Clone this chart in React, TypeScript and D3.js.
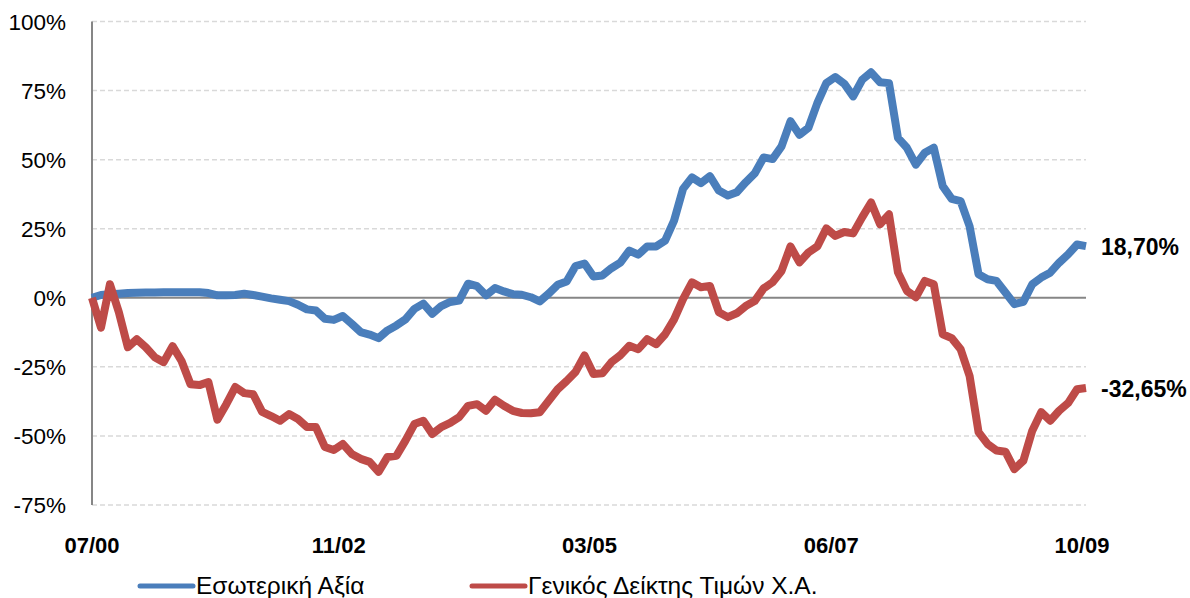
import React, { useEffect, useRef } from 'react';
import * as d3 from 'd3';

// monthly observations, 07/2000 .. 10/2009
const months = d3.timeMonth.range(new Date(2000, 6, 1), new Date(2009, 10, 1));

const intrinsicValue = [
  0.0, 1.0, 1.3, 1.5, 1.7, 1.8, 1.9, 1.9, 2.0, 2.0,
  2.0, 2.0, 2.0, 1.7, 0.9, 0.9, 1.0, 1.5, 1.0, 0.4,
  -0.2, -0.7, -1.2, -2.5, -4.2, -4.6, -7.6, -8.0, -6.6, -9.4,
  -12.4, -13.3, -14.6, -11.8, -10.0, -7.8, -4.0, -2.1, -5.8, -3.0,
  -1.5, -1.0, 5.1, 4.2, 0.9, 3.5, 2.3, 1.3, 1.1, 0.2,
  -1.3, 1.5, 4.7, 5.9, 11.5, 12.4, 7.7, 8.1, 10.7, 12.7,
  17.1, 15.6, 18.6, 18.6, 20.7, 27.9, 39.4, 43.6, 41.5, 44.0,
  38.8, 37.0, 38.2, 41.8, 45.0, 50.8, 50.2, 54.8, 63.9, 59.0,
  61.5, 70.5, 77.7, 79.9, 77.5, 72.9, 78.9, 81.6, 78.0, 77.7,
  57.9, 54.3, 48.2, 52.5, 54.3, 40.4, 35.8, 35.0, 25.9, 8.5,
  6.7, 6.1, 1.9, -2.3, -1.5, 4.9, 7.3, 9.1, 12.7, 15.7,
  19.3, 18.7,
];

const generalIndex = [
  0, -10.8, 4.9, -5.2, -17.9, -15, -17.9, -21.5, -23.3, -17.5,
  -22.9, -31.3, -31.6, -30.5, -44.1, -38.5, -32.3, -34.5, -34.9, -41.3,
  -42.8, -44.5, -42.1, -43.9, -46.8, -46.8, -54, -55.1, -52.9, -56.5,
  -58.3, -59.4, -63, -57.6, -57.2, -51.7, -45.7, -44.5, -49.3, -46.8,
  -45.3, -43.2, -39.1, -38.5, -40.9, -36.9, -39.1, -40.9, -41.7, -41.8,
  -41.4, -37.3, -33.1, -30.1, -26.8, -20.9, -27.6, -27.3, -23.3, -20.8,
  -17.4, -18.6, -15, -16.8, -13.2, -7.8, -0.5, 5.6, 3.8, 4.3,
  -5.2, -7, -5.6, -3, -1.2, 3.4, 5.6, 9.7, 18.6, 12.8,
  16.4, 18.6, 25.1, 22.4, 23.8, 23.3, 29.1, 34.5, 26.6, 30.2,
  9.2, 2.5, 0.2, 6.1, 4.9, -13.2, -14.6, -18.6, -28.3, -48.6,
  -52.9, -55.3, -55.7, -62, -59, -48.1, -41.4, -44.5, -40.9, -38.1,
  -33.1, -32.65,
];

const seriesNames = ['Εσωτερική Αξία', 'Γενικός Δείκτης Τιμών Χ.Α.'];
const endLabels = ['18,70%', '-32,65%'];
const yTicks = [100, 75, 50, 25, 0, -25, -50, -75];
const xTickIndex = [0, 28, 56, 83, 111];
const xTickLabels = ['07/00', '11/02', '03/05', '06/07', '10/09'];

const colors = ['#4a7ebb', '#be4b48'];
const font = '"Liberation Sans", Arial, sans-serif';

const W = 1190;
const H = 598;

export default function App() {
  const ref = useRef<SVGSVGElement>(null);

  useEffect(() => {
    const svg = d3.select(ref.current);
    svg.selectAll('*').remove();

    const x = d3.scaleLinear().domain([0, months.length - 1]).range([92, 1086]);
    const y = d3.scaleLinear().domain([-75, 100]).range([505, 21.5]);

    // grid
    svg.append('g')
      .selectAll('line')
      .data(yTicks.filter(d => d !== 0))
      .enter()
      .append('line')
      .attr('x1', x(0))
      .attr('x2', x(months.length - 1))
      .attr('y1', d => y(d))
      .attr('y2', d => y(d))
      .attr('stroke', '#d9d9d9')
      .attr('stroke-width', 1.5)
      .attr('stroke-dasharray', '5,3');

    // zero line + y axis
    svg.append('line')
      .attr('x1', x(0)).attr('x2', x(months.length - 1))
      .attr('y1', y(0)).attr('y2', y(0))
      .attr('stroke', '#868686').attr('stroke-width', 2);
    svg.append('line')
      .attr('x1', x(0)).attr('x2', x(0))
      .attr('y1', y(100)).attr('y2', y(-75))
      .attr('stroke', '#868686').attr('stroke-width', 2);

    // y labels
    svg.append('g')
      .selectAll('text')
      .data(yTicks)
      .enter()
      .append('text')
      .attr('x', 66)
      .attr('y', d => y(d) + 8)
      .attr('text-anchor', 'end')
      .style('font-family', font)
      .style('font-size', '22.5px')
      .style('fill', '#000')
      .text(d => `${d}%`);

    // x labels
    svg.append('g')
      .selectAll('text')
      .data(xTickIndex)
      .enter()
      .append('text')
      .attr('x', (d, i) => x(d) - (i === 0 ? 0 : 4))
      .attr('y', 553)
      .attr('text-anchor', 'middle')
      .style('font-family', font)
      .style('font-size', '22px')
      .style('font-weight', 'bold')
      .style('fill', '#000')
      .text((d, i) => xTickLabels[i]);

    // lines
    const series = [intrinsicValue, generalIndex];
    const line = d3.line<number>()
      .x((d, i) => x(i))
      .y(d => y(d));

    series.forEach((values, s) => {
      svg.append('path')
        .datum(values)
        .attr('d', line)
        .attr('fill', 'none')
        .attr('stroke', colors[s])
        .attr('stroke-width', 8)
        .attr('stroke-linejoin', 'round');

      const last = values[values.length - 1];
      svg.append('text')
        .attr('x', 1101)
        .attr('y', y(last) + 9)
        .style('font-family', font)
        .style('font-size', '23px')
        .style('font-weight', 'bold')
        .style('fill', '#000')
        .text(endLabels[s]);
    });

    // legend
    const legendX = [140, 472];
    seriesNames.forEach((name, s) => {
      svg.append('line')
        .attr('x1', legendX[s]).attr('x2', legendX[s] + 53)
        .attr('y1', 586).attr('y2', 586)
        .attr('stroke', colors[s])
        .attr('stroke-width', 5)
        .attr('stroke-linecap', 'round');
      svg.append('text')
        .attr('x', legendX[s] + 56)
        .attr('y', 594)
        .style('font-family', font)
        .style('font-size', '24.5px')
        .style('fill', '#000')
        .text(name);
    });
  }, []);

  return (
    <div style={{ position: 'fixed', left: 0, top: 0, background: '#fff' }}>
      <svg ref={ref} width={W} height={H} />
    </div>
  );
}
